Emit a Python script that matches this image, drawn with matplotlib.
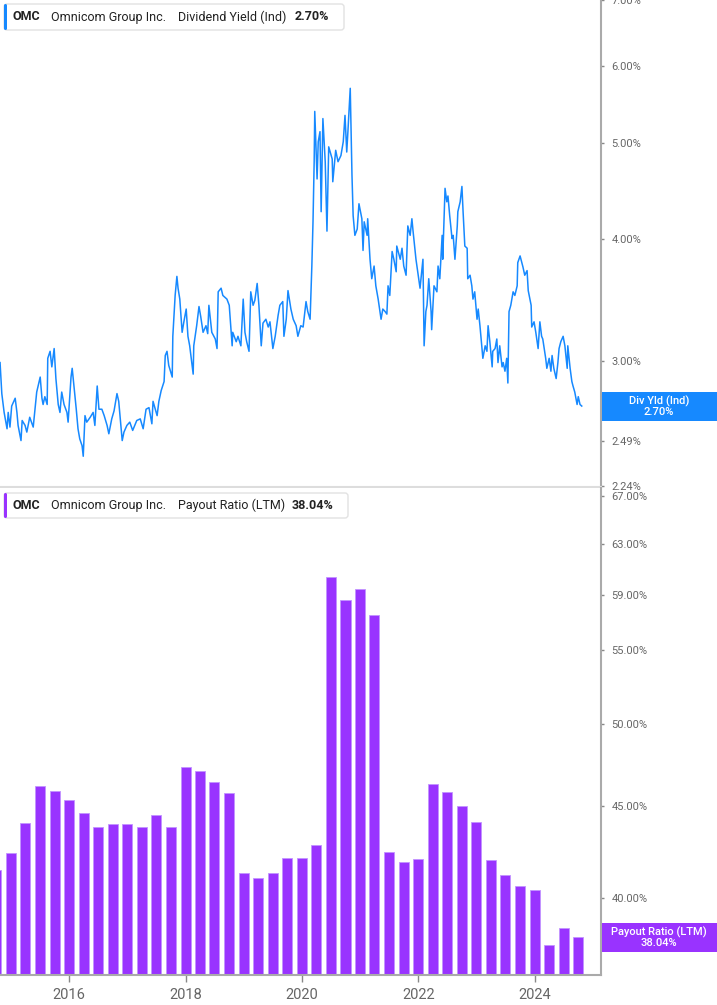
import numpy as np
import pandas as pd
import matplotlib
matplotlib.use('Agg')
import matplotlib.pyplot as plt
from matplotlib.patches import FancyBboxPatch, Rectangle
from matplotlib.transforms import IdentityTransform
from matplotlib.ticker import FixedLocator, NullLocator, FuncFormatter

plt.rcParams['font.family'] = ['Roboto', 'DejaVu Sans']

# Dividend yield (Ind), % -- time as decimal years
yield_t = [
    2014.81, 2014.84, 2014.88, 2014.93, 2014.95, 2014.98, 2015.01, 2015.07, 2015.10, 2015.12,
    2015.17, 2015.19, 2015.24, 2015.27, 2015.32, 2015.38, 2015.41, 2015.44, 2015.50, 2015.53,
    2015.55, 2015.58, 2015.62, 2015.63, 2015.67, 2015.70, 2015.74, 2015.77, 2015.81, 2015.84,
    2015.87, 2015.91, 2015.96, 2015.98, 2016.03, 2016.05, 2016.08, 2016.12, 2016.15, 2016.18,
    2016.22, 2016.24, 2016.27, 2016.30, 2016.36, 2016.41, 2016.44, 2016.48, 2016.51, 2016.56,
    2016.60, 2016.65, 2016.68, 2016.73, 2016.77, 2016.82, 2016.85, 2016.91, 2016.94, 2016.99,
    2017.04, 2017.09, 2017.16, 2017.22, 2017.27, 2017.32, 2017.37, 2017.42, 2017.44, 2017.51,
    2017.54, 2017.58, 2017.63, 2017.65, 2017.68, 2017.71, 2017.77, 2017.78, 2017.82, 2017.85,
    2017.87, 2017.90, 2017.94, 2017.97, 2018.01, 2018.04, 2018.07, 2018.13, 2018.14, 2018.19,
    2018.23, 2018.26, 2018.30, 2018.35, 2018.38, 2018.40, 2018.45, 2018.51, 2018.54, 2018.56,
    2018.61, 2018.64, 2018.71, 2018.75, 2018.80, 2018.81, 2018.87, 2018.90, 2018.95, 2018.99,
    2019.02, 2019.05, 2019.09, 2019.12, 2019.16, 2019.19, 2019.23, 2019.26, 2019.30, 2019.33,
    2019.38, 2019.42, 2019.45, 2019.50, 2019.54, 2019.59, 2019.62, 2019.67, 2019.69, 2019.73,
    2019.76, 2019.81, 2019.85, 2019.90, 2019.93, 2019.98, 2020.02, 2020.07, 2020.10, 2020.14,
    2020.17, 2020.19, 2020.21, 2020.22, 2020.26, 2020.28, 2020.31, 2020.33, 2020.36, 2020.40,
    2020.43, 2020.46, 2020.52, 2020.53, 2020.58, 2020.62, 2020.67, 2020.71, 2020.74, 2020.77,
    2020.79, 2020.83, 2020.86, 2020.88, 2020.91, 2020.95, 2020.98, 2021.03, 2021.05, 2021.07,
    2021.12, 2021.13, 2021.17, 2021.20, 2021.24, 2021.27, 2021.31, 2021.36, 2021.39, 2021.43,
    2021.46, 2021.48, 2021.51, 2021.55, 2021.58, 2021.62, 2021.63, 2021.69, 2021.72, 2021.75,
    2021.79, 2021.82, 2021.86, 2021.89, 2021.91, 2021.96, 2021.99, 2022.03, 2022.06, 2022.08,
    2022.10, 2022.13, 2022.15, 2022.18, 2022.22, 2022.23, 2022.27, 2022.32, 2022.34, 2022.37,
    2022.41, 2022.42, 2022.46, 2022.49, 2022.51, 2022.54, 2022.58, 2022.60, 2022.63, 2022.67,
    2022.68, 2022.72, 2022.75, 2022.77, 2022.80, 2022.84, 2022.85, 2022.89, 2022.92, 2022.94,
    2022.97, 2023.01, 2023.03, 2023.06, 2023.10, 2023.11, 2023.15, 2023.18, 2023.20, 2023.23,
    2023.27, 2023.28, 2023.32, 2023.35, 2023.37, 2023.40, 2023.44, 2023.46, 2023.49, 2023.52,
    2023.54, 2023.56, 2023.59, 2023.63, 2023.66, 2023.70, 2023.71, 2023.75, 2023.78, 2023.80,
    2023.83, 2023.87, 2023.89, 2023.94, 2023.95, 2023.99, 2024.02, 2024.06, 2024.09, 2024.12,
    2024.14, 2024.19, 2024.21, 2024.25, 2024.28, 2024.30, 2024.33, 2024.37, 2024.40, 2024.42,
    2024.45, 2024.49, 2024.52, 2024.56, 2024.57, 2024.61, 2024.64, 2024.66, 2024.69, 2024.73,
    2024.75, 2024.78, 2024.81,
]
yield_v = [
    2.99, 2.78, 2.66, 2.56, 2.66, 2.57, 2.70, 2.75, 2.66, 2.58,
    2.49, 2.61, 2.58, 2.54, 2.63, 2.57, 2.68, 2.79, 2.89, 2.75,
    2.71, 2.76, 2.71, 3.02, 3.07, 2.96, 3.09, 2.88, 2.71, 2.66,
    2.79, 2.71, 2.66, 2.60, 2.89, 2.95, 2.83, 2.68, 2.56, 2.50,
    2.46, 2.40, 2.64, 2.60, 2.63, 2.66, 2.58, 2.83, 2.68, 2.68,
    2.64, 2.58, 2.53, 2.62, 2.67, 2.78, 2.73, 2.49, 2.54, 2.58,
    2.60, 2.55, 2.61, 2.62, 2.56, 2.68, 2.69, 2.59, 2.73, 2.64,
    2.73, 2.80, 2.86, 3.04, 3.07, 2.97, 2.89, 3.18, 3.50, 3.66,
    3.56, 3.47, 3.21, 3.29, 3.39, 3.18, 3.11, 2.91, 3.11, 3.26,
    3.41, 3.33, 3.21, 3.26, 3.20, 3.42, 3.21, 3.16, 3.09, 3.53,
    3.56, 3.50, 3.47, 3.42, 3.11, 3.21, 3.14, 3.18, 3.11, 3.47,
    3.21, 3.14, 3.07, 3.53, 3.42, 3.46, 3.60, 3.42, 3.11, 3.28,
    3.31, 3.25, 3.29, 3.09, 3.18, 3.34, 3.42, 3.45, 3.18, 3.31,
    3.54, 3.39, 3.31, 3.26, 3.18, 3.26, 3.25, 3.45, 3.37, 3.31,
    3.75, 4.16, 4.79, 5.39, 4.60, 5.02, 5.14, 4.26, 5.30, 4.79,
    4.07, 4.96, 4.82, 4.57, 4.92, 4.79, 4.86, 5.02, 5.34, 4.90,
    5.14, 5.69, 4.64, 4.22, 4.03, 4.09, 4.34, 4.19, 3.89, 4.16,
    4.03, 4.19, 3.81, 3.64, 3.75, 3.58, 3.47, 3.31, 3.39, 3.37,
    3.35, 3.58, 3.50, 3.88, 3.81, 3.70, 3.93, 3.81, 3.91, 3.75,
    3.67, 4.12, 4.03, 4.19, 4.07, 3.81, 3.70, 3.56, 3.71, 3.81,
    3.11, 3.37, 3.42, 3.64, 3.37, 3.23, 3.58, 3.53, 3.75, 3.64,
    4.03, 3.81, 4.50, 4.36, 4.42, 4.22, 4.00, 4.03, 3.81, 4.12,
    4.26, 4.36, 4.52, 4.26, 3.93, 3.91, 3.64, 3.67, 3.58, 3.47,
    3.53, 3.31, 3.39, 3.26, 3.07, 3.02, 3.11, 3.07, 3.26, 3.14,
    2.96, 3.07, 3.09, 3.16, 2.99, 3.11, 2.96, 2.99, 2.93, 3.02,
    2.85, 3.37, 3.42, 3.53, 3.50, 3.58, 3.78, 3.84, 3.78, 3.74,
    3.67, 3.71, 3.54, 3.42, 3.25, 3.29, 3.21, 3.09, 3.29, 3.18,
    3.16, 3.02, 2.95, 3.02, 2.93, 3.04, 2.95, 2.88, 2.99, 3.09,
    3.14, 3.18, 3.11, 2.95, 3.11, 2.95, 2.86, 2.83, 2.79, 2.71,
    2.76, 2.71, 2.70,
]

# Payout ratio (LTM), % -- one value per quarter end, 2014-09-30 .. 2024-09-30
payout_v = [
    41.50, 42.38, 44.04, 46.18, 45.89, 45.36, 44.61, 43.81, 43.98, 43.98,
    43.81, 44.49, 43.81, 47.32, 47.08, 46.42, 45.77, 41.30, 41.04, 41.30,
    42.11, 42.11, 42.82, 60.39, 58.63, 59.47, 57.51, 42.43, 41.89, 42.05,
    46.30, 45.83, 45.01, 44.10, 42.00, 41.20, 40.62, 40.41, 37.66, 38.49,
    38.04,
]
payout_q = pd.date_range('2014-09-30', periods=len(payout_v), freq='QE')
payout_t = payout_q.year + payout_q.dayofyear / np.where(payout_q.is_leap_year, 366, 365)

yield_ticks = [2.24, 2.49, 3, 4, 5, 6, 7]
payout_ticks = [40, 45, 50, 55, 59, 63, 67]
year_ticks = [2016, 2018, 2020, 2022, 2024]

BLUE = '#1689ff'
PURPLE = '#9933ff'
W, H = 717, 1005

fig = plt.figure(figsize=(W / 100, H / 100), dpi=100)
ax1 = fig.add_axes([0, 1 - 487 / H, 601 / W, 487 / H])
ax2 = fig.add_axes([0, 1 - 975 / H, 601 / W, 487 / H])

pct = FuncFormatter(lambda v, p: '%.2f%%' % v)

# --- top: dividend yield
ax1.plot(yield_t, yield_v, color=BLUE, lw=1.1)
ax1.set_yscale('log')
ax1.set_ylim(2.233, 7.0)

# --- bottom: payout ratio bars (log axis, so bars start from a base below the view)
base = 30
ax2.bar(payout_t, np.array(payout_v) - base, width=0.172, bottom=base, color=PURPLE,
        edgecolor='#c294ff', linewidth=0.6)
ax2.set_yscale('log')
ax2.set_ylim(36.25, 67.7)

for ax, ticks in ((ax1, yield_ticks), (ax2, payout_ticks)):
    ax.set_xlim(2014.809, 2025.141)
    ax.yaxis.tick_right()
    ax.yaxis.set_major_locator(FixedLocator(ticks))
    ax.yaxis.set_minor_locator(NullLocator())
    ax.yaxis.set_major_formatter(pct)
    ax.tick_params(axis='y', direction='out', length=2.5, width=1, color='#888888',
                   labelcolor='#666666', labelsize=8, pad=5)
    for s in ('top', 'left'):
        ax.spines[s].set_visible(False)
    ax.spines['right'].set_color('#aaaaaa')
    ax.spines['right'].set_linewidth(1.5)

ax1.tick_params(axis='x', bottom=False, labelbottom=False)
ax1.spines['bottom'].set_color('#dddddd')
ax1.spines['bottom'].set_linewidth(1.5)

ax2.set_xticks(year_ticks)
ax2.set_xticklabels([str(y) for y in year_ticks])
ax2.tick_params(axis='x', direction='out', length=5, width=1, color='#888888',
                labelcolor='#666666', labelsize=10.5, pad=4)
ax2.spines['bottom'].set_color('#aaaaaa')
ax2.spines['bottom'].set_linewidth(1.5)


def px(x, y):
    return x / W, 1 - y / H


# legend boxes at top-left of each panel
for y0, y1, x1, col, metric, last, xl in (
        (4, 30, 344, BLUE, 'Dividend Yield (Ind)', '2.70%', 295),
        (493, 518, 348, PURPLE, 'Payout Ratio (LTM)', '38.04%', 292)):
    box = FancyBboxPatch((4, H - y1), x1 - 4, y1 - y0,
                         boxstyle='round,pad=0,rounding_size=3',
                         transform=IdentityTransform(), facecolor='white',
                         edgecolor='#e2e2e2', linewidth=1)
    fig.add_artist(box)
    stripe = FancyBboxPatch((4, H - y1), 3, y1 - y0,
                            boxstyle='round,pad=0,rounding_size=1.5',
                            transform=IdentityTransform(), facecolor=col,
                            edgecolor='none')
    fig.add_artist(stripe)
    yc = (y0 + y1) / 2
    fig.text(*px(13, yc), 'OMC', fontsize=9, fontweight='bold', color='#222222', va='center')
    fig.text(*px(51, yc), 'Omnicom Group Inc.', fontsize=9, color='#222222', va='center')
    fig.text(*px(178, yc), metric, fontsize=9, color='#222222', va='center')
    fig.text(*px(xl, yc), last, fontsize=9, fontweight='bold', color='#222222', va='center')

# last-value tags on the right axis
for y0, y1, col, name, val in ((392, 421, BLUE, 'Div Yld (Ind)', '2.70%'),
                               (923, 952, PURPLE, 'Payout Ratio (LTM)', '38.04%')):
    fig.add_artist(Rectangle((602, H - y1), W - 602, y1 - y0, transform=IdentityTransform(),
                             facecolor=col, edgecolor='none'))
    fig.text(*px(659, y0 + 9), name, fontsize=8, fontweight='medium', color='white',
             ha='center', va='center')
    fig.text(*px(659, y0 + 20), val, fontsize=8, fontweight='medium', color='white',
             ha='center', va='center')

fig.savefig('out.png', dpi=100)
